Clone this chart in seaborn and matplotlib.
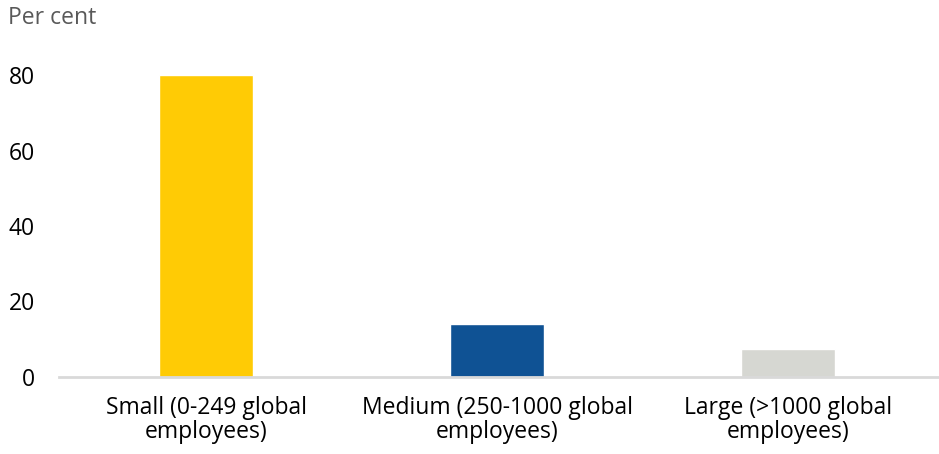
import matplotlib
matplotlib.use("Agg")
import matplotlib.pyplot as plt
import seaborn as sns
import pandas as pd

categories = ["Small (0-249 global\nemployees)",
              "Medium (250-1000 global\nemployees)",
              "Large (>1000 global\nemployees)"]
values = [80.0, 14.0, 7.4]
colors = ["#FFCB05", "#0F5294", "#D6D7D2"]
yticks = [0, 20, 40, 60, 80]

sns.set_theme(style="white")
plt.rcParams['font.family'] = ['Open Sans', 'DejaVu Sans']

df = pd.DataFrame({"cat": categories, "val": values})

fig = plt.figure(figsize=(9.39, 4.54), dpi=100)
ax = fig.add_axes([58.5/939, 77/454, 880.5/939, (85*3.775)/454])
sns.barplot(data=df, x="cat", y="val", hue="cat", palette=colors,
            width=0.32, legend=False, ax=ax, saturation=1)
ax.set_xlim(-0.507, 2.519)
ax.set_ylim(0, 85)
ax.set_yticks(yticks)
ax.set_yticklabels([str(t) for t in yticks])
ax.set_xlabel("")
ax.set_ylabel("")
for s in ["top", "right", "left"]:
    ax.spines[s].set_visible(False)
ax.spines["bottom"].set_color("#D9D9D9")
ax.spines["bottom"].set_linewidth(2)
ax.tick_params(axis="y", length=0, pad=17, labelsize=16.5, labelcolor="#000000")
ax.tick_params(axis="x", length=0, pad=14, labelsize=16.5, labelcolor="#000000")
for lab in ax.get_xticklabels():
    lab.set_linespacing(1.0)
fig.text(8/939, 1 - 18/454, "Per cent", fontsize=16.5, color="#595959", va="center", ha="left")
fig.savefig("out.png", dpi=100)
